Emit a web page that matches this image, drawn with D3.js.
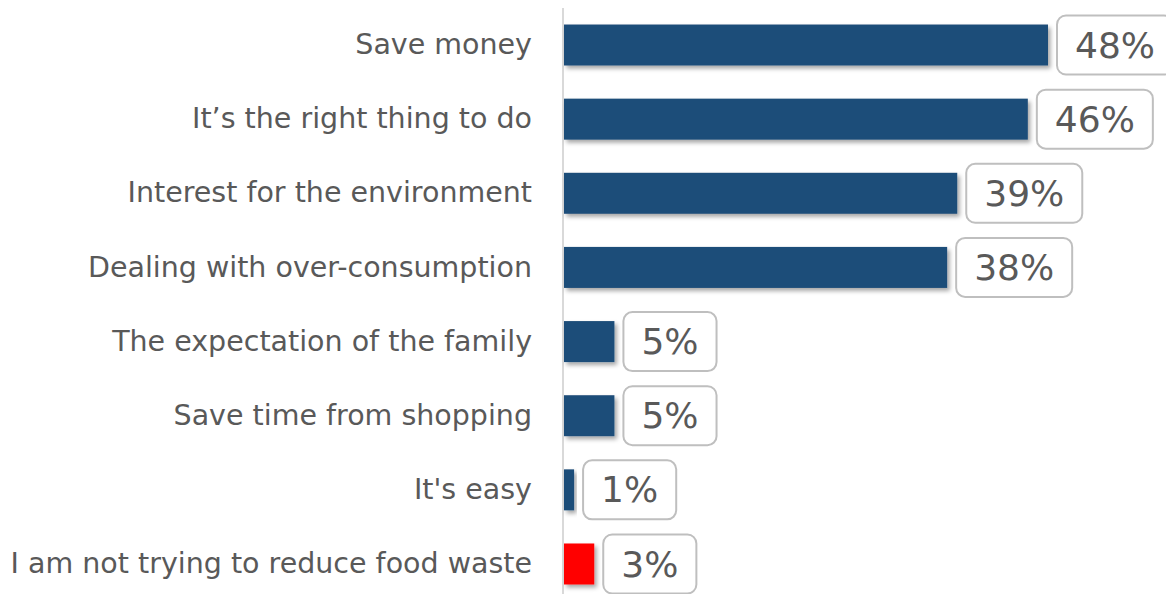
<!DOCTYPE html>
<html>
<head>
<meta charset="utf-8">
<script src="https://cdn.jsdelivr.net/npm/d3@7"></script>
<style>
  html, body { margin: 0; padding: 0; background: #ffffff; }
  svg { display: block; }
</style>
</head>
<body>
<svg id="chart" width="1166" height="594"></svg>
<script>
// Reasons for reducing food waste (share of respondents, %)
const categories = [
  "Save money",
  "It\u2019s the right thing to do",
  "Interest for the environment",
  "Dealing with over-consumption",
  "The expectation of the family",
  "Save time from shopping",
  "It's easy",
  "I am not trying to reduce food waste"
];
const values = [48, 46, 39, 38, 5, 5, 1, 3];
const barColors = ["#1f4e79", "#1f4e79", "#1f4e79", "#1f4e79", "#1f4e79", "#1f4e79", "#1f4e79", "#ff0000"];

const W = 1166, H = 594;
const svg = d3.select("#chart");
const FONT = "Tahoma, 'DejaVu Sans', sans-serif";

const x = d3.scaleLinear().domain([0, 48]).range([564, 1048]);
const y = d3.scaleBand().domain(categories).range([8.2, 600.8]).paddingInner(0.447).paddingOuter(0.22);

// soft drop shadow under the bars
const defs = svg.append("defs");
const f = defs.append("filter").attr("id", "shadow")
  .attr("x", "-10%").attr("y", "-20%").attr("width", "130%").attr("height", "160%");
f.append("feDropShadow").attr("dx", 2.5).attr("dy", 3).attr("stdDeviation", 2)
  .attr("flood-color", "#000").attr("flood-opacity", 0.35);

// vertical category axis line
svg.append("line")
  .attr("x1", 563).attr("x2", 563).attr("y1", 8).attr("y2", H)
  .attr("stroke", "#d9d9d9").attr("stroke-width", 2);

// category labels
const yAxis = d3.axisLeft(y).tickSize(0).tickPadding(31);
const gy = svg.append("g").attr("transform", "translate(563,0)").call(yAxis);
gy.select(".domain").remove();
gy.selectAll("text")
  .attr("fill", "#595959")
  .style("font-family", FONT)
  .style("font-size", "28.5px");

const rows = svg.append("g").selectAll("g").data(categories).join("g");

rows.append("rect")
  .attr("x", x(0))
  .attr("y", d => y(d))
  .attr("height", y.bandwidth())
  .attr("width", (d, i) => x(values[i]) - x(0))
  .attr("fill", (d, i) => barColors[i])
  .attr("filter", "url(#shadow)");

// value callouts
const labels = rows.append("g")
  .attr("transform", (d, i) => `translate(${x(values[i]) + 9},${y(d) + y.bandwidth() / 2})`);

labels.append("rect")
  .attr("rx", 9).attr("ry", 9)
  .attr("fill", "#ffffff")
  .attr("stroke", "#bfbfbf")
  .attr("stroke-width", 2);

const boxTexts = labels.append("text")
  .attr("dy", "0.35em")
  .attr("fill", "#595959")
  .style("font-family", FONT)
  .style("font-size", "36px")
  .text((d, i) => values[i] + "%");

boxTexts.each(function () {
  const w = this.getComputedTextLength();
  const padX = 18, h = 59;
  d3.select(this).attr("x", padX);
  d3.select(this.parentNode).select("rect")
    .attr("x", 0).attr("y", -h / 2)
    .attr("width", w + padX * 2).attr("height", h);
});
</script>
</body>
</html>
